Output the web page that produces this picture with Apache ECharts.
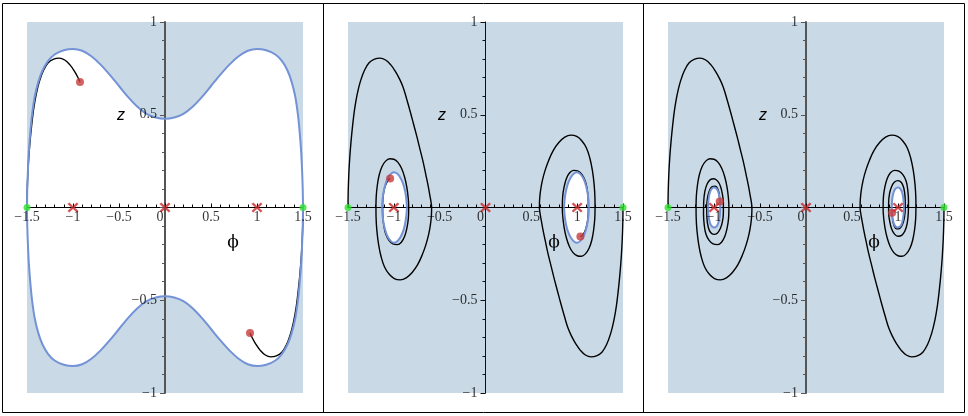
<!DOCTYPE html>
<html><head><meta charset="utf-8">
<script src="https://cdn.jsdelivr.net/npm/echarts@6/dist/echarts.min.js"></script>
<style>html,body{margin:0;padding:0;background:#fff}#c{width:968px;height:416px}</style>
</head><body><div id="c"></div>
<script>
// ---- tick labels ----
const xTickValues = [-1.5, -1, -0.5, 0, 0.5, 1, 1.5];
const xTickLabels = ['−1.5', '−1', '−0.5', '0', '0.5', '1', '1.5'];
const yTickValues = [-1, -0.5, 0.5, 1];
const yTickLabels = ['−1', '−0.5', '0.5', '1'];

// ---- fixed points ----
const saddles = [[-1.5, 0], [1.5, 0]];          // green
const equilibria = [[-1, 0], [0, 0], [1, 0]];   // red crosses

// ---- panel 1 ----
const p1BoundUpper = [[-1.5,0],[-1.497,0.1],[-1.49,0.2],[-1.48,0.3],[-1.465,0.4],[-1.445,0.5],[-1.415,0.6],[-1.375,0.68],[-1.33,0.74],[-1.27,0.79],[-1.2,0.825],[-1.1,0.848],[-1.0,0.855],[-0.9,0.845],[-0.8,0.815],[-0.7,0.77],[-0.6,0.715],[-0.5,0.655],[-0.4,0.595],[-0.3,0.543],[-0.2,0.505],[-0.1,0.485],[0,0.478],[0.1,0.485],[0.2,0.505],[0.3,0.543],[0.4,0.595],[0.5,0.655],[0.6,0.715],[0.7,0.77],[0.8,0.815],[0.9,0.845],[1.0,0.855],[1.1,0.848],[1.2,0.825],[1.27,0.79],[1.33,0.74],[1.375,0.68],[1.415,0.6],[1.445,0.5],[1.465,0.4],[1.48,0.3],[1.49,0.2],[1.497,0.1],[1.5,0]];
const p1BoundLower = [[-1.5,0],[-1.497,-0.1],[-1.49,-0.2],[-1.48,-0.3],[-1.465,-0.4],[-1.445,-0.5],[-1.415,-0.6],[-1.375,-0.68],[-1.33,-0.74],[-1.27,-0.79],[-1.2,-0.825],[-1.1,-0.848],[-1.0,-0.855],[-0.9,-0.845],[-0.8,-0.815],[-0.7,-0.77],[-0.6,-0.715],[-0.5,-0.655],[-0.4,-0.595],[-0.3,-0.543],[-0.2,-0.505],[-0.1,-0.485],[0,-0.478],[0.1,-0.485],[0.2,-0.505],[0.3,-0.543],[0.4,-0.595],[0.5,-0.655],[0.6,-0.715],[0.7,-0.77],[0.8,-0.815],[0.9,-0.845],[1.0,-0.855],[1.1,-0.848],[1.2,-0.825],[1.27,-0.79],[1.33,-0.74],[1.375,-0.68],[1.415,-0.6],[1.445,-0.5],[1.465,-0.4],[1.48,-0.3],[1.49,-0.2],[1.497,-0.1],[1.5,0]];
const p1TrajLeft = [[-1.5,0],[-1.498,0.08],[-1.492,0.17],[-1.482,0.26],[-1.468,0.35],[-1.45,0.44],[-1.428,0.53],[-1.4,0.61],[-1.365,0.68],[-1.32,0.74],[-1.27,0.78],[-1.21,0.8],[-1.15,0.805],[-1.09,0.795],[-1.035,0.77],[-0.985,0.735],[-0.94,0.695],[-0.924,0.677]];
const p1TrajRight = [[1.5,0],[1.498,-0.08],[1.492,-0.17],[1.482,-0.26],[1.468,-0.35],[1.45,-0.44],[1.428,-0.53],[1.4,-0.61],[1.365,-0.68],[1.32,-0.74],[1.27,-0.78],[1.21,-0.8],[1.15,-0.805],[1.09,-0.795],[1.035,-0.77],[0.985,-0.735],[0.94,-0.695],[0.924,-0.677]];
const p1Ends = [[-0.924,0.677],[0.924,-0.677]];

// ---- panel 2 ----
const p2LeftOvalUpper = [[-1.128,0],[-1.124,0.04],[-1.113,0.08],[-1.095,0.12],[-1.07,0.155],[-1.035,0.18],[-1.0,0.19],[-0.965,0.183],[-0.93,0.162],[-0.9,0.13],[-0.878,0.09],[-0.864,0.045],[-0.857,0]];
const p2LeftOvalLower = [[-1.128,0],[-1.124,-0.04],[-1.113,-0.08],[-1.095,-0.12],[-1.07,-0.155],[-1.035,-0.18],[-1.0,-0.19],[-0.965,-0.183],[-0.93,-0.162],[-0.9,-0.13],[-0.878,-0.09],[-0.864,-0.045],[-0.857,0]];
const p2RightOvalUpper = [[0.857,0],[0.864,0.045],[0.878,0.09],[0.9,0.13],[0.93,0.162],[0.965,0.183],[1.0,0.19],[1.035,0.18],[1.07,0.155],[1.095,0.12],[1.113,0.08],[1.124,0.04],[1.128,0]];
const p2RightOvalLower = [[0.857,0],[0.864,-0.045],[0.878,-0.09],[0.9,-0.13],[0.93,-0.162],[0.965,-0.183],[1.0,-0.19],[1.035,-0.18],[1.07,-0.155],[1.095,-0.12],[1.113,-0.08],[1.124,-0.04],[1.128,0]];

// outer part of the trajectories, shared by panels 2 and 3
const bigLoopLeft = [[-1.5,0],[-1.498,0.08],[-1.492,0.17],[-1.482,0.26],[-1.468,0.35],[-1.45,0.44],[-1.428,0.53],[-1.4,0.61],[-1.365,0.68],[-1.32,0.74],[-1.27,0.78],[-1.21,0.8],[-1.15,0.805],[-1.09,0.795],[-1.035,0.77],[-0.985,0.735],[-0.94,0.695],[-0.9,0.65],[-0.86,0.585],[-0.82,0.515],[-0.785,0.45],[-0.75,0.385],[-0.715,0.315],[-0.68,0.245],[-0.65,0.175],[-0.625,0.115],[-0.605,0.06],[-0.592,0.022],[-0.588,0],[-0.59,-0.04],[-0.6,-0.09],[-0.62,-0.145],[-0.65,-0.2],[-0.69,-0.255],[-0.74,-0.308],[-0.8,-0.35],[-0.865,-0.379],[-0.93,-0.39],[-0.995,-0.383],[-1.05,-0.36],[-1.1,-0.322],[-1.138,-0.267],[-1.166,-0.2],[-1.185,-0.125],[-1.194,-0.05],[-1.195,0],[-1.192,0.06],[-1.18,0.12],[-1.16,0.175],[-1.13,0.22],[-1.09,0.25],[-1.045,0.263],[-1.0,0.26],[-0.955,0.243],[-0.915,0.21],[-0.882,0.163],[-0.858,0.108],[-0.843,0.05],[-0.838,0],[-0.842,-0.06],[-0.857,-0.11],[-0.882,-0.155],[-0.918,-0.187],[-0.962,-0.2],[-1.01,-0.196],[-1.053,-0.177]];
const bigLoopRight = [[1.5,0],[1.498,-0.08],[1.492,-0.17],[1.482,-0.26],[1.468,-0.35],[1.45,-0.44],[1.428,-0.53],[1.4,-0.61],[1.365,-0.68],[1.32,-0.74],[1.27,-0.78],[1.21,-0.8],[1.15,-0.805],[1.09,-0.795],[1.035,-0.77],[0.985,-0.735],[0.94,-0.695],[0.9,-0.65],[0.86,-0.585],[0.82,-0.515],[0.785,-0.45],[0.75,-0.385],[0.715,-0.315],[0.68,-0.245],[0.65,-0.175],[0.625,-0.115],[0.605,-0.06],[0.592,-0.022],[0.588,0],[0.59,0.04],[0.6,0.09],[0.62,0.145],[0.65,0.2],[0.69,0.255],[0.74,0.308],[0.8,0.35],[0.865,0.379],[0.93,0.39],[0.995,0.383],[1.05,0.36],[1.1,0.322],[1.138,0.267],[1.166,0.2],[1.185,0.125],[1.194,0.05],[1.195,0],[1.192,-0.06],[1.18,-0.12],[1.16,-0.175],[1.13,-0.22],[1.09,-0.25],[1.045,-0.263],[1.0,-0.26],[0.955,-0.243],[0.915,-0.21],[0.882,-0.163],[0.858,-0.108],[0.843,-0.05],[0.838,0],[0.842,0.06],[0.857,0.11],[0.882,0.155],[0.918,0.187],[0.962,0.2],[1.01,0.196],[1.053,0.177]];
const p2TailLeft = [[-1.088,-0.143],[-1.11,-0.095],[-1.121,-0.04],[-1.122,0.02],[-1.113,0.075],[-1.093,0.117],[-1.065,0.145],[-1.04,0.157]];
const p2TailRight = [[1.088,0.143],[1.11,0.095],[1.121,0.04],[1.122,-0.02],[1.113,-0.075],[1.093,-0.117],[1.065,-0.145],[1.035,-0.157]];
const p2Ends = [[-1.04,0.157],[1.035,-0.157]];

// ---- panel 3 ----
const p3LeftOvalUpper = [[-1.064,0],[-1.06,0.04],[-1.048,0.075],[-1.03,0.098],[-1.0,0.108],[-0.97,0.1],[-0.95,0.078],[-0.937,0.045],[-0.932,0]];
const p3LeftOvalLower = [[-1.064,0],[-1.06,-0.04],[-1.048,-0.075],[-1.03,-0.098],[-1.0,-0.108],[-0.97,-0.1],[-0.95,-0.078],[-0.937,-0.045],[-0.932,0]];
const p3RightOvalUpper = [[0.932,0],[0.937,0.045],[0.95,0.078],[0.97,0.1],[1.0,0.108],[1.03,0.098],[1.048,0.075],[1.06,0.04],[1.064,0]];
const p3RightOvalLower = [[0.932,0],[0.937,-0.045],[0.95,-0.078],[0.97,-0.1],[1.0,-0.108],[1.03,-0.098],[1.048,-0.075],[1.06,-0.04],[1.064,0]];
const p3TailLeft = [[-1.088,-0.143],[-1.106,-0.095],[-1.114,-0.035],[-1.112,0.03],[-1.1,0.085],[-1.075,0.127],[-1.04,0.15],[-1.0,0.155],[-0.96,0.142],[-0.93,0.115],[-0.91,0.075],[-0.898,0.025],[-0.898,-0.025],[-0.908,-0.075],[-0.93,-0.112],[-0.962,-0.137],[-1.0,-0.145],[-1.037,-0.135],[-1.063,-0.105],[-1.077,-0.055],[-1.079,0],[-1.071,0.05],[-1.05,0.09],[-1.02,0.112],[-0.985,0.115],[-0.957,0.097],[-0.942,0.065],[-0.938,0.033]];
const p3TailRight = [[1.088,0.143],[1.106,0.095],[1.114,0.035],[1.112,-0.03],[1.1,-0.085],[1.075,-0.127],[1.04,-0.15],[1.0,-0.155],[0.96,-0.142],[0.93,-0.115],[0.91,-0.075],[0.898,-0.025],[0.898,0.025],[0.908,0.075],[0.93,0.112],[0.962,0.137],[1.0,0.145],[1.037,0.135],[1.063,0.105],[1.077,0.055],[1.079,0],[1.071,-0.05],[1.05,-0.09],[1.02,-0.112],[0.985,-0.115],[0.957,-0.097],[0.942,-0.065],[0.938,-0.033]];
const p3Ends = [[-0.938,0.033],[0.936,-0.028]];

// ---- styles / layout ----
const BG = '#c9d9e6', BLUE = '#7393d6', RED = '#c8282a', DOT = '#c83c3c', GREEN = '#2fe02f';
const SERIF = '"Liberation Serif","Times New Roman",serif';
const X_PATH = 'path://M0,1.6L1.6,0L5,3.4L8.4,0L10,1.6L6.6,5L10,8.4L8.4,10L5,6.6L1.6,10L0,8.4L3.4,5Z';
const panelLayout = [
  {left: 27, width: 276, yAxisColor: '#555', yAxisWidth: 2, zx: 121, phix: 233},
  {left: 348, width: 275, yAxisColor: '#111', yAxisWidth: 1, zx: 442, phix: 554},
  {left: 668, width: 276, yAxisColor: '#555', yAxisWidth: 2, zx: 763, phix: 874}
];
const panelData = [
  {areas: [p1BoundUpper, p1BoundLower], bounds: [p1BoundUpper, p1BoundLower], trajs: [p1TrajLeft, p1TrajRight], ends: p1Ends},
  {areas: [p2LeftOvalUpper, p2LeftOvalLower, p2RightOvalUpper, p2RightOvalLower], bounds: [p2LeftOvalUpper, p2LeftOvalLower, p2RightOvalUpper, p2RightOvalLower], trajs: [bigLoopLeft.concat(p2TailLeft), bigLoopRight.concat(p2TailRight)], ends: p2Ends},
  {areas: [p3LeftOvalUpper, p3LeftOvalLower, p3RightOvalUpper, p3RightOvalLower], bounds: [p3LeftOvalUpper, p3LeftOvalLower, p3RightOvalUpper, p3RightOvalLower], trajs: [bigLoopLeft.concat(p3TailLeft), bigLoopRight.concat(p3TailRight)], ends: p3Ends}
];

const labelFont = {fontFamily: SERIF, fontSize: 14, color: '#000'};
const grids = [], xAxes = [], yAxes = [], series = [], graphics = [];
panelLayout.forEach((p, i) => {
  grids.push({left: p.left, top: 22, width: p.width, height: 371, show: true, backgroundColor: BG, borderWidth: 0, containLabel: false, outerBoundsMode: 'none'});
  xAxes.push({
    gridIndex: i, type: 'value', min: -1.5, max: 1.5, interval: 0.5, z: 2,
    axisLine: {onZero: true, lineStyle: {color: '#000', width: 1}},
    axisTick: {inside: true, length: 4, lineStyle: {color: '#000', width: 1}},
    minorTick: {show: true, splitNumber: 5, length: 3, lineStyle: {color: '#000', width: 1}},
    splitLine: {show: false}, minorSplitLine: {show: false},
    axisLabel: {show: false}
  });
  yAxes.push({
    gridIndex: i, type: 'value', min: -1, max: 1, interval: 0.5, z: 2,
    axisLine: {onZero: true, lineStyle: {color: p.yAxisColor, width: p.yAxisWidth}},
    axisTick: {inside: false, length: 5, lineStyle: {color: p.yAxisColor, width: 1}},
    minorTick: {show: true, splitNumber: 5, length: 3, lineStyle: {color: p.yAxisColor, width: 1}},
    splitLine: {show: false}, minorSplitLine: {show: false},
    axisLabel: {show: false}
  });
  const d = panelData[i];
  const base = {xAxisIndex: i, yAxisIndex: i, symbol: 'none', silent: true, animation: false};
  d.areas.forEach(a => series.push(Object.assign({}, base, {type: 'line', data: a, smooth: 0.3, lineStyle: {width: 0, opacity: 0}, areaStyle: {color: '#fff', opacity: 1}, z: 1})));
  d.trajs.forEach(t => series.push(Object.assign({}, base, {type: 'line', data: t, smooth: 0.4, lineStyle: {color: '#000', width: 1.4}, z: 3})));
  d.bounds.forEach(b => series.push(Object.assign({}, base, {type: 'line', data: b, smooth: 0.3, lineStyle: {color: BLUE, width: 2}, z: 4})));
  series.push(Object.assign({}, base, {type: 'scatter', data: d.ends, symbol: 'circle', symbolSize: 8, itemStyle: {color: DOT}, z: 6}));
  series.push(Object.assign({}, base, {type: 'scatter', data: equilibria, symbol: X_PATH, symbolSize: [11, 10], itemStyle: {color: RED}, z: 6}));
  series.push(Object.assign({}, base, {type: 'scatter', data: saddles, symbol: 'circle', symbolSize: 7, itemStyle: {color: GREEN}, z: 6}));
  // tick labels, anchored on the axes through the data coordinates
  series.push(Object.assign({}, base, {
    type: 'scatter', symbol: 'circle', symbolSize: 0.1, itemStyle: {color: 'transparent'}, z: 7,
    data: xTickValues.map((v, k) => ({value: [v, 0], label: {formatter: xTickLabels[k], offset: v === 0 ? [-5, 0] : [0, 0]}})),
    label: Object.assign({show: true, position: 'bottom', distance: 3}, labelFont)
  }));
  series.push(Object.assign({}, base, {
    type: 'scatter', symbol: 'circle', symbolSize: 0.1, itemStyle: {color: 'transparent'}, z: 7,
    data: yTickValues.map((v, k) => ({value: [0, v], label: {formatter: yTickLabels[k]}})),
    label: Object.assign({show: true, position: 'left', distance: 8}, labelFont)
  }));
  graphics.push({type: 'text', x: p.zx, y: 116, z: 10, style: {text: 'z', font: 'italic 16px "Liberation Sans", Arial, sans-serif', fill: '#000', align: 'center', verticalAlign: 'middle'}});
  graphics.push({type: 'text', x: p.phix, y: 243, z: 10, style: {text: 'ϕ', font: '17px "DejaVu Serif", serif', fill: '#000', align: 'center', verticalAlign: 'middle'}});
});
graphics.push({type: 'rect', z: 10, shape: {x: 2.5, y: 3.5, width: 962, height: 409}, style: {fill: 'none', stroke: '#000', lineWidth: 1}});
graphics.push({type: 'line', z: 10, shape: {x1: 323.5, y1: 3.5, x2: 323.5, y2: 412.5}, style: {stroke: '#000', lineWidth: 1}});
graphics.push({type: 'line', z: 10, shape: {x1: 643.5, y1: 3.5, x2: 643.5, y2: 412.5}, style: {stroke: '#000', lineWidth: 1}});

const chart = echarts.init(document.getElementById('c'), null, {renderer: 'canvas'});
chart.setOption({animation: false, backgroundColor: '#fff', grid: grids, xAxis: xAxes, yAxis: yAxes, series: series, graphic: graphics});
</script></body></html>
